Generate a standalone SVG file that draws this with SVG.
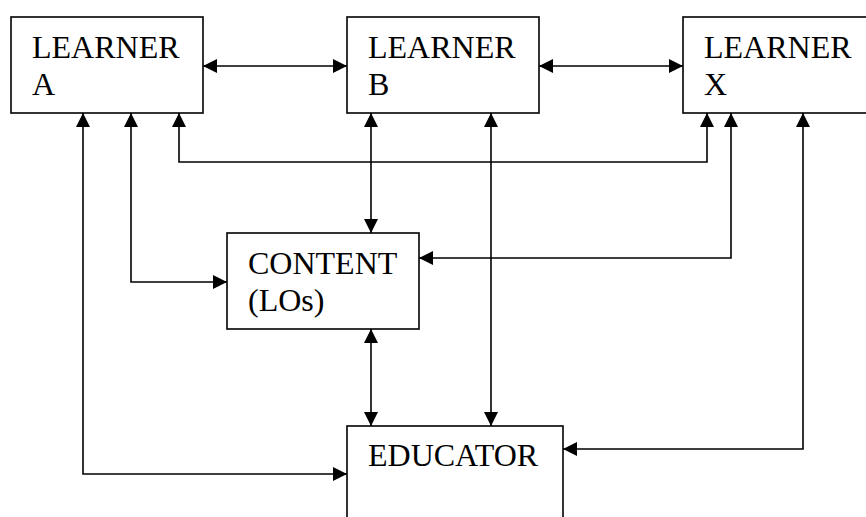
<svg xmlns="http://www.w3.org/2000/svg" width="866" height="517" viewBox="0 0 866 517">
<style>
.box{fill:#fff;stroke:#000;stroke-width:1.6}
.c{fill:none;stroke:#000;stroke-width:1.6;marker-start:url(#ah);marker-end:url(#ah)}
</style>
<defs>
<marker id="ah" markerUnits="userSpaceOnUse" markerWidth="14" markerHeight="14" refX="14" refY="7" orient="auto-start-reverse" viewBox="0 0 14 14">
<path d="M0,0 L14,7 L0,14 z" fill="#000"/>
</marker>
</defs>
<rect width="866" height="517" fill="#fff"/>
<g id="connectors">
<path class="c" d="M203,66 H347"/>
<path class="c" d="M539,66 H683"/>
<path class="c" d="M179,113 V162 H707 V113"/>
<path class="c" d="M131,113 V282 H227"/>
<path class="c" d="M83,113 V474 H347"/>
<path class="c" d="M371,113 V233"/>
<path class="c" d="M491,113 V426"/>
<path class="c" d="M731,113 V258 H419"/>
<path class="c" d="M803,113 V449 H563"/>
<path class="c" d="M371,329 V426"/>
</g>
<g font-family="Liberation Serif, serif" font-size="32" fill="#000">
<g id="learnerA">
<rect class="box" x="11" y="17" width="192" height="96"/>
<text x="32" y="58">LEARNER</text>
<text x="32" y="95">A</text>
</g>
<g id="learnerB">
<rect class="box" x="347" y="17" width="192" height="96"/>
<text x="368" y="58">LEARNER</text>
<text x="368" y="95">B</text>
</g>
<g id="learnerX">
<rect class="box" x="683" y="17" width="200" height="96"/>
<text x="704" y="58">LEARNER</text>
<text x="704" y="95">X</text>
</g>
<g id="content">
<rect class="box" x="227" y="233" width="192" height="96"/>
<text x="248" y="274">CONTENT</text>
<text x="248" y="311">(LOs)</text>
</g>
<g id="educator">
<rect class="box" x="347" y="426" width="216" height="120"/>
<text x="368" y="466">EDUCATOR</text>
</g>
</g>
</svg>
